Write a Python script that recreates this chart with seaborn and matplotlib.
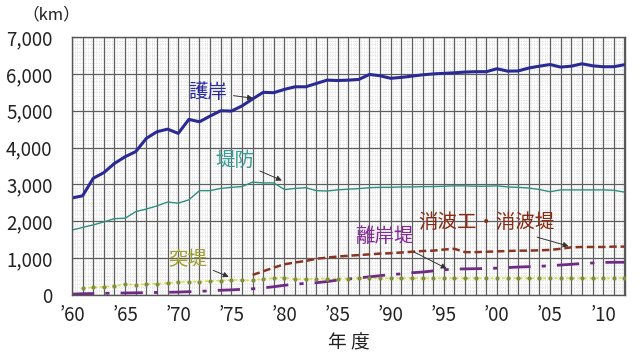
import numpy as np
import pandas as pd
import matplotlib
matplotlib.use("Agg")
import matplotlib.pyplot as plt
import seaborn as sns
from matplotlib.ticker import MultipleLocator, FuncFormatter

years = list(range(1960, 2013))

gogan = [2630, 2690, 3165, 3320, 3570, 3750, 3890, 4250, 4430, 4500,
         4385, 4765, 4700, 4855, 5000, 4990, 5130, 5320, 5500, 5490,
         5580, 5650, 5650, 5740, 5830, 5820, 5830, 5850, 5985, 5950,
         5880, 5905, 5940, 5975, 6000, 6015, 6030, 6050, 6060, 6060,
         6140, 6075, 6080, 6160, 6210, 6255, 6185, 6210, 6275, 6220,
         6195, 6195, 6250]

teibo = [1760, 1830, 1900, 1980, 2070, 2080, 2260, 2330, 2415, 2520,
         2490, 2580, 2830, 2830, 2890, 2920, 2940, 3060, 3040, 3040,
         2860, 2890, 2910, 2830, 2820, 2850, 2870, 2885, 2910, 2920,
         2920, 2930, 2930, 2940, 2940, 2950, 2960, 2960, 2950, 2950,
         2960, 2930, 2920, 2900, 2860, 2800, 2850, 2850, 2850, 2850,
         2850, 2840, 2790]

rigan = [20, 30, 35, 40, 45, 50, 55, 60, 65, 70,
         75, 85, 95, 110, 125, 135, 150, 165, 190, 220,
         260, 290, 310, 330, 360, 400, 430, 460, 490, 520,
         550, 570, 600, 620, 650, 680, 700, 705, 710, 715,
         725, 740, 755, 765, 775, 790, 810, 830, 850, 865,
         880, 885, 885]

shouha_years = list(range(1977, 2013))
shouha = [540, 640, 740,
          830, 880, 920, 980, 1010, 1040, 1060, 1080, 1100, 1120,
          1130, 1150, 1170, 1190, 1200, 1230, 1250, 1160, 1160, 1170,
          1180, 1190, 1200, 1200, 1210, 1220, 1250, 1290, 1300, 1300,
          1300, 1310, 1310]

toutei_years = list(range(1961, 2013))
toutei = [180, 200, 220, 240, 290, 270, 290, 300, 320,
          345, 355, 360, 375, 385, 405, 400, 390, 440, 450,
          470, 420, 430, 440, 440, 440, 440, 450, 450, 450,
          450, 450, 450, 450, 450, 450, 450, 450, 450, 450,
          450, 450, 450, 450, 450, 450, 450, 450, 450, 450,
          450, 450, 460]

xtick_years = list(range(1960, 2011, 5))
xtick_labels = ["’60", "’65", "’70", "’75", "’80", "’85", "’90", "’95", "’00", "’05", "’10"]

sns.set_style("white")
plt.rcParams['font.family'] = ['Noto Sans CJK JP', 'DejaVu Sans']

fig = plt.figure(figsize=(6.4, 3.6), dpi=100)
ax = fig.add_axes([0.1125, 0.181, 0.864, 0.716])

df_main = pd.DataFrame({"year": years, "gogan": gogan, "teibo": teibo, "rigan": rigan})
df_sh = pd.DataFrame({"year": shouha_years, "v": shouha})
df_to = pd.DataFrame({"year": toutei_years, "v": toutei})

ax.set_xlim(1960, 2012.05)
ax.set_ylim(0, 7000)

# fine dotted background grid
ax.vlines(np.arange(1960, 2012.05, 0.25), 0, 7000, colors='#d9d9d9', linestyles=':', linewidth=0.6, zorder=0)
ax.hlines(np.arange(0, 7001, 100), 1960, 2012.05, colors='#d9d9d9', linestyles=':', linewidth=0.6, zorder=0)

ax.set_xticks(xtick_years)
ax.set_xticklabels(xtick_labels)
ax.xaxis.set_minor_locator(MultipleLocator(1))
ax.yaxis.set_major_locator(MultipleLocator(1000))
ax.grid(which='major', axis='both', color='#5e5e5e', linewidth=0.9, zorder=1)
ax.grid(which='minor', axis='x', color='#5e5e5e', linewidth=0.9, zorder=1)
ax.set_axisbelow(True)

sns.lineplot(data=df_main, x="year", y="teibo", ax=ax, color='#2f8f80', linewidth=1.0)
sns.lineplot(data=df_to, x="year", y="v", ax=ax, color='#d8e040', linewidth=1.2,
             linestyle=(0, (2, 1.5)))
sns.scatterplot(data=df_to, x="year", y="v", ax=ax, color='#7f8f3a', s=9, linewidth=0, zorder=3)
sns.lineplot(data=df_main, x="year", y="rigan", ax=ax, color='#6e2a86', linewidth=2.0,
             linestyle=(0, (8, 4, 1.5, 4)))
sns.lineplot(data=df_sh, x="year", y="v", ax=ax, color='#8a3522', linewidth=1.8,
             linestyle=(0, (3, 1.5)))
sns.lineplot(data=df_main, x="year", y="gogan", ax=ax, color='#2a2a95', linewidth=2.2)

ax.yaxis.set_major_formatter(FuncFormatter(lambda v, p: f"{int(v):,}"))
ax.tick_params(axis='both', which='both', length=0, labelsize=13.5, colors='#222222')
ax.tick_params(axis='x', pad=7)
ax.tick_params(axis='y', pad=14)
ax.set_xlabel("")
ax.set_ylabel("")
for s in ax.spines.values():
    s.set_color('#555555')
    s.set_linewidth(1.0)

fig.text(0.08, 0.958, "（km）", fontsize=12, ha='center', va='center', color='#222222')
fig.text(0.545, 0.047, "年 度", fontsize=13.5, ha='center', va='center', color='#222222')

arrow = dict(arrowstyle='-|>', color='#333333', lw=0.7, mutation_scale=8)
ax.annotate("護岸", xy=(1977.3, 5330), xytext=(1972.8, 5500), fontsize=14, color='#2a2aa0',
            ha='center', va='center', arrowprops=arrow)
ax.annotate("堤防", xy=(1980.0, 3075), xytext=(1975.3, 3660), fontsize=14, color='#3a9e98',
            ha='center', va='center', arrowprops=arrow)
ax.annotate("突堤", xy=(1975.0, 460), xytext=(1970.9, 950), fontsize=14, color='#a0a030',
            ha='center', va='center', arrowprops=arrow)
ax.annotate("離岸堤", xy=(1995.5, 680), xytext=(1989.4, 1574), fontsize=14, color='#862a9a',
            ha='center', va='center', arrowprops=arrow)
ax.annotate("消波工・消波堤", xy=(2007.0, 1300), xytext=(1999.0, 1960), fontsize=14, color='#8a2a12',
            ha='center', va='center', arrowprops=arrow)

fig.savefig("out.png", dpi=100)
